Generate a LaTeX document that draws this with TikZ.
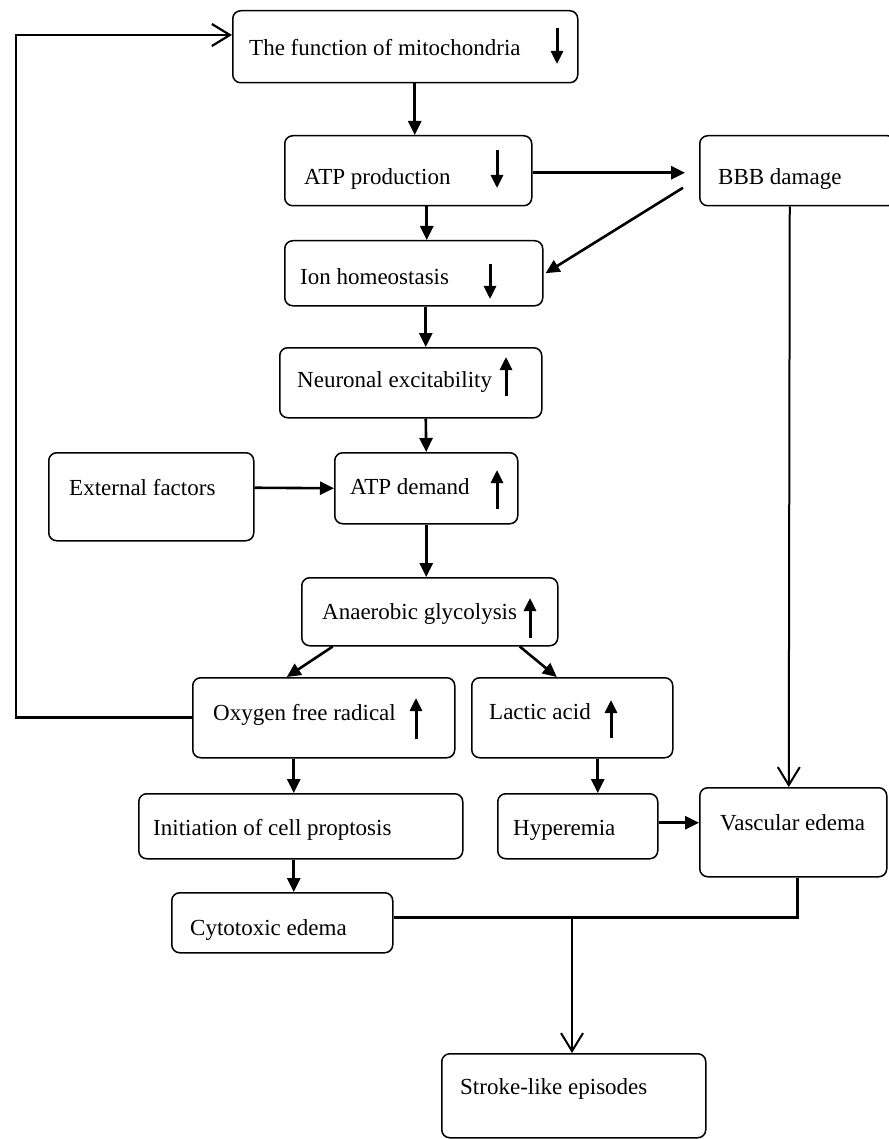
\documentclass[tikz,border=0pt]{standalone}
\usepackage{fontspec}
\setmainfont{Liberation Serif}
\usetikzlibrary{arrows.meta}
\tikzset{
  box/.style={draw, line width=1.5pt, rounded corners=8pt, inner sep=0pt, anchor=north west},
  lbl/.style={inner sep=0pt, anchor=mid west, font=\fontsize{23}{27}\selectfont},
  arr/.style={line width=2.6pt, -{Triangle[length=14pt,width=13pt]}},
  openarr/.style={line width=2pt, -{Straight Barb[length=18pt,width=22pt,line width=2pt]}},
  plain/.style={line width=2.6pt},
  glyph/.style={line width=3pt, -{Triangle[length=13pt,width=12pt]}}
}
\begin{document}
\begin{tikzpicture}[x=1pt,y=-1pt]
\fill[white] (0,0) rectangle (888,1139);
\useasboundingbox (0,0) rectangle (888,1139);
% boxes
\node[box, minimum width=345pt, minimum height=72pt] (mito) at (232,10) {};
\node[box, minimum width=247pt, minimum height=70pt] (atpp) at (284,135) {};
\node[box, minimum width=196pt, minimum height=70pt] (bbb) at (699,135) {};
\node[box, minimum width=258pt, minimum height=65pt] (ion) at (284,240) {};
\node[box, minimum width=262pt, minimum height=70pt] (neur) at (279,347) {};
\node[box, minimum width=205pt, minimum height=88pt] (ext) at (48,452) {};
\node[box, minimum width=183pt, minimum height=71pt] (atpd) at (334,452) {};
\node[box, minimum width=256pt, minimum height=68pt] (anae) at (301,577) {};
\node[box, minimum width=262pt, minimum height=80pt] (oxy) at (192,677) {};
\node[box, minimum width=201pt, minimum height=80pt] (lact) at (471,677) {};
\node[box, minimum width=324pt, minimum height=65pt] (init) at (138,793) {};
\node[box, minimum width=160pt, minimum height=65pt] (hyper) at (497,793) {};
\node[box, minimum width=187pt, minimum height=89pt] (vasc) at (699,787) {};
\node[box, minimum width=221pt, minimum height=60pt] (cyto) at (171,892) {};
\node[box, minimum width=264pt, minimum height=84pt] (stroke) at (441,1053) {};
% texts
\node[lbl] (mito-t) at (249,53) {The function of mitochondria};
\node[lbl] (atpp-t) at (304,182) {ATP production};
\node[lbl] (bbb-t) at (718,182) {BBB damage};
\node[lbl] (ion-t) at (300,282) {Ion homeostasis};
\node[lbl] (neur-t) at (297,385) {Neuronal excitability};
\node[lbl] (ext-t) at (69,493) {External factors};
\node[lbl] (atpd-t) at (350,492) {ATP demand};
\node[lbl] (anae-t) at (322,617) {Anaerobic glycolysis};
\node[lbl] (oxy-t) at (213,718) {Oxygen free radical};
\node[lbl] (lact-t) at (489,717) {Lactic acid};
\node[lbl] (init-t) at (153,833) {Initiation of cell proptosis};
\node[lbl] (hyper-t) at (513,833) {Hyperemia};
\node[lbl] (vasc-t) at (720,828) {Vascular edema};
\node[lbl] (cyto-t) at (190,933) {Cytotoxic edema};
\node[lbl] (stroke-t) at (460,1092) {Stroke-like episodes};
% in-box up/down arrows
\draw[glyph] (557,28) -- (557,64);
\draw[glyph] (497,150) -- (497,188);
\draw[glyph] (490,264) -- (490,299);
\draw[glyph] (506,396) -- (506,357);
\draw[glyph] (497,509) -- (497,470);
\draw[glyph] (530,638) -- (530,598);
\draw[glyph] (416,739) -- (416,698);
\draw[glyph] (611,738) -- (611,700);
% connectors
\draw[arr] ([xshift=9.5pt]mito.south) -- ([xshift=6.5pt]atpp.north);
\draw[arr, line width=3pt] ([yshift=-2pt]atpp.east) -- ([xshift=-14pt,yshift=-2pt]bbb.west);
\draw[arr] ([xshift=18.5pt]atpp.south) -- ([xshift=13pt]ion.north);
\draw[arr] ([xshift=-16pt,yshift=-17pt]bbb.west) -- ([xshift=2pt]ion.east);
\draw[arr] ([xshift=12pt]ion.south) -- ([xshift=15pt]neur.north);
\draw[arr] ([xshift=15pt]neur.south) -- (atpd.north);
\draw[arr] ([yshift=9pt]ext.east) -- (atpd.west);
\draw[arr] (atpd.south) -- ([xshift=-3.5pt]anae.north);
\draw[arr] ([xshift=-97pt]anae.south) -- ([xshift=-37pt]oxy.north);
\draw[arr] ([xshift=90pt]anae.south) -- ([xshift=-15.5pt]lact.north);
\draw[arr] ([xshift=-30pt]oxy.south) -- ([xshift=-7pt]init.north);
\draw[arr] ([xshift=25.5pt]lact.south) -- ([xshift=20pt]hyper.north);
\draw[arr] ([yshift=3.5pt]hyper.east) -- ([yshift=9.5pt]vasc.west);
\draw[arr] ([xshift=-7pt]init.south) -- ([xshift=11.5pt]cyto.north);
\draw[openarr] ([xshift=-8pt]bbb.south) -- ([xshift=-4.5pt]vasc.north);
\coordinate (lc) at (16,35);
\draw[plain, -{Straight Barb[length=18pt,width=22pt,line width=2.2pt]}] (oxy.west) -| (lc) -- (mito.west |- lc);
\coordinate (jn) at (572,917);
\draw[plain] ([xshift=4.5pt]vasc.south) |- ([yshift=5pt]cyto.east);
\draw[openarr] (jn) -- (jn |- stroke.north);
\end{tikzpicture}
\end{document}
